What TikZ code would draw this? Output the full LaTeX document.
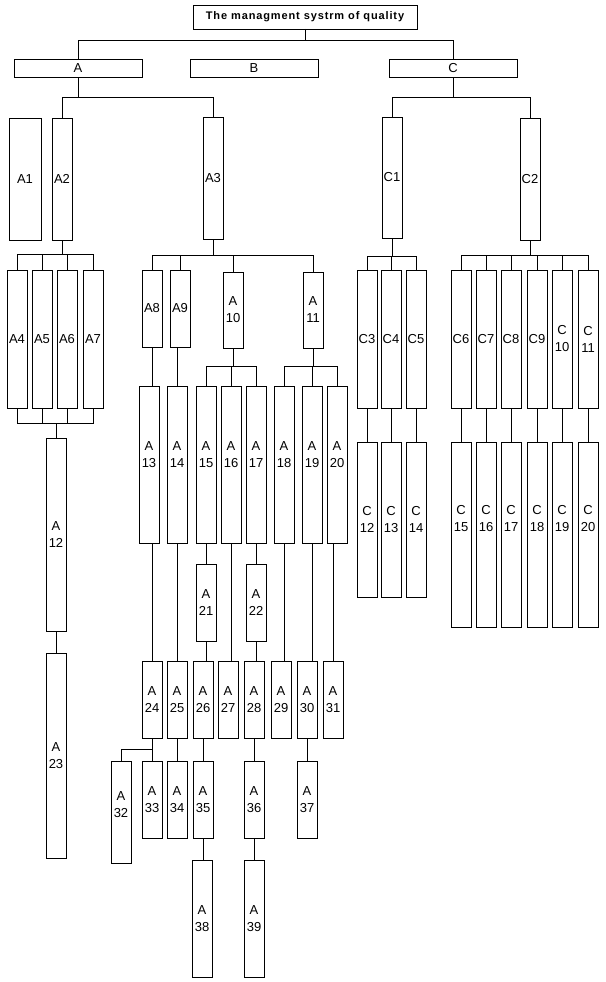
\documentclass[tikz,border=0pt]{standalone}
\usepackage{fontspec}
\setmainfont{Liberation Sans}
\newfontfamily\titlefont[LetterSpace=8]{Liberation Sans}
\tikzset{
  box/.style={draw, line width=0.9pt, inner sep=0pt, outer sep=0pt,
    minimum width=20pt, align=center, font=\fontsize{13}{17}\selectfont},
  lift/.style={text depth=#1},
  every path/.style={line width=0.9pt}
}

\begin{document}
\begin{tikzpicture}[x=1pt, y=-1pt]
    \useasboundingbox (0,0) rectangle (605,982);
    \coordinate (TitleBus) at (0,40);
    \coordinate (ABus)     at (0,97);
    \coordinate (CBus)     at (0,97);
    \coordinate (AiiBus)   at (0,254);
    \coordinate (AiiLow)   at (0,423);
    \coordinate (AiiiBus)  at (0,255);
    \coordinate (AxBus)    at (0,366);
    \coordinate (AxxivBus) at (0,749);
    \coordinate (CiBus)    at (0,256);
    \coordinate (CiiBus)   at (0,255);

    \node [box, minimum width=224pt, minimum height=24pt,
      font={\titlefont\bfseries\fontsize{11}{12}\selectfont}] (Title) at (305,17)
      {The managment systrm of quality};
    \node [box, minimum width=128pt, minimum height=18pt] (A) at (78,68)  {A};
    \node [box, minimum width=128pt, minimum height=18pt] (B) at (254,68) {B};
    \node [box, minimum width=128pt, minimum height=18pt] (C) at (453,68) {C};

    % branch A
    \node [box, minimum width=32pt, minimum height=122pt] (A1) at (25,179) {A1};
    \node [box, minimum height=122pt] (A2) at (62,179)  {A2};
    \node [box, minimum height=122pt] (A3) at (213,178) {A3};
    \node [box, minimum height=138pt] (A4) at (17,339) {A4};
    \node [box, minimum height=138pt] (A5) at (42,339) {A5};
    \node [box, minimum height=138pt] (A6) at (67,339) {A6};
    \node [box, minimum height=138pt] (A7) at (93,339) {A7};
    \node [box, minimum height=193pt] (A12) at (56,534.5) {A\\12};
    \node [box, minimum height=205pt] (A23) at (56,755.5) {A\\23};
    \node [box, minimum height=77pt] (A8)  at (152,308.5) {A8};
    \node [box, minimum height=77pt] (A9)  at (180,308.5) {A9};
    \node [box, minimum height=76pt] (A10) at (233,310)   {A\\10};
    \node [box, minimum height=76pt] (A11) at (313,310)   {A\\11};
    \node [box, minimum height=157pt, lift=20pt] (A13) at (149,464.5) {A\\13};
    \node [box, minimum height=157pt, lift=20pt] (A14) at (177,464.5) {A\\14};
    \node [box, minimum height=157pt, lift=20pt] (A15) at (206,464.5) {A\\15};
    \node [box, minimum height=157pt, lift=20pt] (A16) at (231,464.5) {A\\16};
    \node [box, minimum height=157pt, lift=20pt] (A17) at (256,464.5) {A\\17};
    \node [box, minimum height=157pt, lift=20pt] (A18) at (284,464.5) {A\\18};
    \node [box, minimum height=157pt, lift=20pt] (A19) at (312,464.5) {A\\19};
    \node [box, minimum height=157pt, lift=20pt] (A20) at (337,464.5) {A\\20};
    \node [box, minimum height=77pt] (A21) at (206,602.5) {A\\21};
    \node [box, minimum height=77pt] (A22) at (256,602.5) {A\\22};
    \node [box, minimum height=77pt] (A24) at (152,699.5) {A\\24};
    \node [box, minimum height=77pt] (A25) at (177,699.5) {A\\25};
    \node [box, minimum height=77pt] (A26) at (203,699.5) {A\\26};
    \node [box, minimum height=77pt] (A27) at (228,699.5) {A\\27};
    \node [box, minimum height=77pt] (A28) at (254,699.5) {A\\28};
    \node [box, minimum height=77pt] (A29) at (281,699.5) {A\\29};
    \node [box, minimum height=77pt] (A30) at (307,699.5) {A\\30};
    \node [box, minimum height=77pt] (A31) at (333,699.5) {A\\31};
    \node [box, minimum height=102pt, lift=14pt] (A32) at (121,812) {A\\32};
    \node [box, minimum height=77pt] (A33) at (152,799.5) {A\\33};
    \node [box, minimum height=77pt] (A34) at (177,799.5) {A\\34};
    \node [box, minimum height=77pt] (A35) at (203,799.5) {A\\35};
    \node [box, minimum height=77pt] (A36) at (254,799.5) {A\\36};
    \node [box, minimum height=77pt] (A37) at (307,799.5) {A\\37};
    \node [box, minimum height=117pt] (A38) at (202,918.5) {A\\38};
    \node [box, minimum height=117pt] (A39) at (254,918.5) {A\\39};

    % branch C
    \node [box, minimum height=121pt] (C1) at (392,177.5) {C1};
    \node [box, minimum height=122pt] (C2) at (530,179)   {C2};
    \node [box, minimum height=138pt] (C3)  at (367,339) {C3};
    \node [box, minimum height=138pt] (C4)  at (391,339) {C4};
    \node [box, minimum height=138pt] (C5)  at (416,339) {C5};
    \node [box, minimum height=138pt] (C6)  at (461,339) {C6};
    \node [box, minimum height=138pt] (C7)  at (486,339) {C7};
    \node [box, minimum height=138pt] (C8)  at (511,339) {C8};
    \node [box, minimum height=138pt] (C9)  at (537,339) {C9};
    \node [box, minimum height=138pt] (C10) at (562,339) {C\\10};
    \node [box, minimum height=138pt] (C11) at (588,339) {C\\11};
    \node [box, minimum height=155pt] (C12) at (367,519.5) {C\\12};
    \node [box, minimum height=155pt] (C13) at (391,519.5) {C\\13};
    \node [box, minimum height=155pt] (C14) at (416,519.5) {C\\14};
    \node [box, minimum height=185pt, lift=32pt] (C15) at (461,534.5) {C\\15};
    \node [box, minimum height=185pt, lift=32pt] (C16) at (486,534.5) {C\\16};
    \node [box, minimum height=185pt, lift=32pt] (C17) at (511,534.5) {C\\17};
    \node [box, minimum height=185pt, lift=32pt] (C18) at (537,534.5) {C\\18};
    \node [box, minimum height=185pt, lift=32pt] (C19) at (562,534.5) {C\\19};
    \node [box, minimum height=185pt, lift=32pt] (C20) at (588,534.5) {C\\20};

    \draw (Title.south) -- (Title.south |- TitleBus);% title to A and C
    \draw (A.north) -- (A.north |- TitleBus) -| (C.north);

    \draw (A.south) -- (A.south |- ABus);% A to A2, A3
    \draw (A2.north) -- (A2.north |- ABus) -| (A3.north);

    \draw (A2.south) -- (A2.south |- AiiBus);% A2 to A4 ... A7
    \draw (A4.north) -- (A4.north |- AiiBus) -| (A7.north);
    \draw (A5.north) -- (A5.north |- AiiBus);
    \draw (A6.north) -- (A6.north |- AiiBus);
    \draw (A4.south) -- (A4.south |- AiiLow) -| (A7.south);% A4 ... A7 to A12
    \draw (A5.south) -- (A5.south |- AiiLow);
    \draw (A6.south) -- (A6.south |- AiiLow);
    \draw (A12.north) -- (A12.north |- AiiLow);
    \draw (A12) -- (A23);

    \draw (A3.south) -- (A3.south |- AiiiBus);% A3 to A8 ... A11
    \draw (A8.north) -- (A8.north |- AiiiBus) -| (A11.north);
    \draw (A9.north) -- (A9.north |- AiiiBus);
    \draw (A10.north) -- (A10.north |- AiiiBus);

    \draw (A8.south) -- (A8.south |- A13.north);
    \draw (A13.south -| A24.north) -- (A24.north);
    \draw (A14.north) -- (A14.north |- A9.south);
    \draw (A14) -- (A25);

    \draw (A10.south) -- (A10.south |- AxBus);% A10 to A15 ... A17
    \draw (A15.north) -- (A15.north |- AxBus) -| (A17.north);
    \draw (A16.north) -- (A16.north |- AxBus);
    \draw (A11.south) -- (A11.south |- AxBus);% A11 to A18 ... A20
    \draw (A18.north) -- (A18.north |- AxBus) -| (A20.north);
    \draw (A19.north) -- (A19.north |- AxBus);

    \draw (A15) -- (A21);
    \draw (A21.south) -- (A21.south |- A26.north);
    \draw (A16.south) -- (A16.south |- A27.north);
    \draw (A17) -- (A22);
    \draw (A22.south) -- (A22.south |- A28.north);
    \draw (A18.south) -- (A18.south |- A29.north);
    \draw (A19.south) -- (A19.south |- A30.north);
    \draw (A31.north) -- (A31.north |- A20.south);

    \draw (A24.south) -- (A24.south |- AxxivBus);% A24 to A32, A33
    \draw (A33.north) -- (A33.north |- AxxivBus) -| (A32.north);
    \draw (A25) -- (A34);
    \draw (A26) -- (A35);
    \draw (A35.south) -- (A35.south |- A38.north);
    \draw (A28) -- (A36);
    \draw (A36) -- (A39);
    \draw (A30) -- (A37);

    \draw (C.south) -- (C.south |- CBus);% C to C1, C2
    \draw (C1.north) -- (C1.north |- CBus) -| (C2.north);
    \draw (C1.south) -- (C1.south |- CiBus);% C1 to C3 ... C5
    \draw (C3.north) -- (C3.north |- CiBus) -| (C5.north);
    \draw (C4.north) -- (C4.north |- CiBus);
    \draw (C2.south) -- (C2.south |- CiiBus);% C2 to C6 ... C11
    \draw (C6.north) -- (C6.north |- CiiBus) -| (C11.north);
    \draw (C7.north) -- (C7.north |- CiiBus);
    \draw (C8.north) -- (C8.north |- CiiBus);
    \draw (C9.north) -- (C9.north |- CiiBus);
    \draw (C10.north) -- (C10.north |- CiiBus);

    \draw (C3) -- (C12);
    \draw (C4) -- (C13);
    \draw (C5) -- (C14);
    \draw (C6) -- (C15);
    \draw (C7) -- (C16);
    \draw (C8) -- (C17);
    \draw (C9) -- (C18);
    \draw (C10) -- (C19);
    \draw (C11) -- (C20);
\end{tikzpicture}
\end{document}
